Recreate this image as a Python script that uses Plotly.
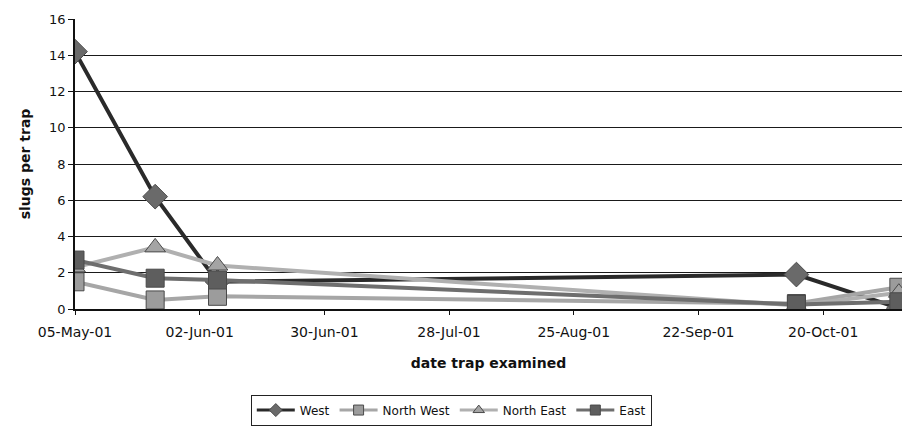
import plotly.graph_objects as go

dates = ["2001-05-05", "2001-05-23", "2001-06-06", "2001-10-14", "2001-11-06"]
west = [14.2, 6.2, 1.5, 1.9, 0.05]
north_west = [1.5, 0.5, 0.7, 0.3, 1.2]
north_east = [2.3, 3.4, 2.4, 0.2, 0.9]
east = [2.7, 1.7, 1.6, 0.25, 0.4]

series = [
    ("West", west, "#2a2a2a", "#6a6a6a", "diamond", 19),
    ("North West", north_west, "#a6a6a6", "#9c9c9c", "square", 18),
    ("North East", north_east, "#b0b0b0", "#a4a4a4", "triangle-up", 18),
    ("East", east, "#6e6e6e", "#5e5e5e", "square", 18),
]

FONT = "DejaVu Sans, Verdana, sans-serif"

fig = go.Figure()
for name, vals, lc, mc, sym, sz in series:
    fig.add_trace(go.Scatter(
        x=dates, y=vals, name=name, mode="lines+markers", showlegend=False,
        line=dict(color=lc, width=4),
        marker=dict(symbol=sym, size=sz, color=mc, line=dict(color="#4a4a4a", width=1)),
    ))
# legend entries with smaller symbols (no data)
for name, vals, lc, mc, sym, sz in series:
    fig.add_trace(go.Scatter(
        x=[None], y=[None], name=name, mode="lines+markers", showlegend=True,
        line=dict(color=lc, width=3),
        marker=dict(symbol=sym, size=10, color=mc, line=dict(color="#4a4a4a", width=1)),
    ))

fig.update_layout(
    width=902, height=426,
    margin=dict(l=75, r=0, t=19, b=114),
    paper_bgcolor="white", plot_bgcolor="white",
    font=dict(family=FONT, color="#111", size=12),
    showlegend=True,
    legend=dict(
        orientation="h", x=0.455, xanchor="center", y=-0.295, yanchor="top",
        bordercolor="#222", borderwidth=1, font=dict(size=12, family=FONT),
        itemwidth=38, tracegroupgap=0,
    ),
)
fig.update_xaxes(
    type="date", range=["2001-05-05", "2001-11-06 17:00"],
    tick0="2001-05-05", dtick=28 * 86400000, tickformat="%d-%b-%y",
    showline=True, linecolor="#111", linewidth=1.5,
    ticks="outside", ticklen=4, tickcolor="#111", ticklabelstandoff=5,
    showgrid=False, zeroline=False, automargin=False,
    title=dict(text="<b>date trap examined</b>", font=dict(size=14, family=FONT), standoff=20),
    tickfont=dict(size=14, family=FONT),
)
fig.update_yaxes(
    range=[0, 16], dtick=2,
    showline=True, linecolor="#111", linewidth=1.5,
    ticks="outside", ticklen=5, tickcolor="#111",
    showgrid=True, gridcolor="#1a1a1a", gridwidth=1.2, zeroline=False, automargin=False,
    title=dict(text="<b>slugs per trap</b>", font=dict(size=14, family=FONT), standoff=15),
    tickfont=dict(size=13, family=FONT),
)
fig.write_html(
    "out.html",
    config={"displayModeBar": False},
    post_script="document.body.style.margin='0';document.body.style.overflow='hidden';",
)
